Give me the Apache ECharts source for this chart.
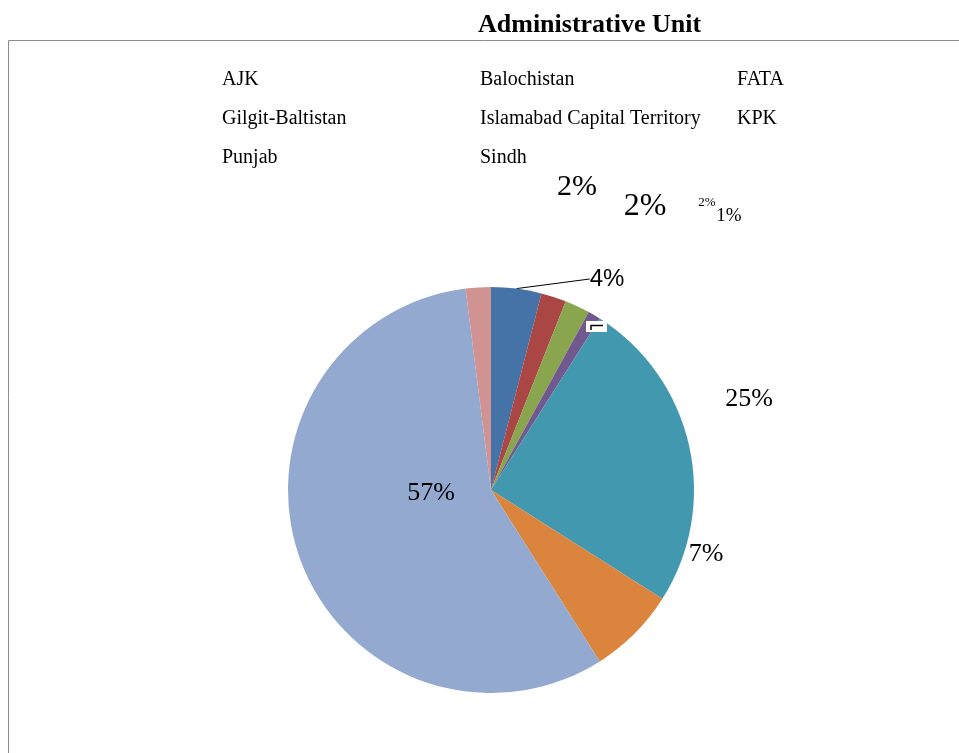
<!DOCTYPE html>
<html>
<head>
<meta charset="utf-8">
<script src="https://cdn.jsdelivr.net/npm/echarts@6/dist/echarts.min.js"></script>
<style>
  html, body { margin: 0; padding: 0; background: #fff; }
  #chart { width: 959px; height: 753px; }
</style>
</head>
<body>
<div id="chart"></div>
<script>
// Share of respondents by administrative unit (percent)
const units = ['AJK', 'Balochistan', 'FATA', 'Gilgit-Baltistan',
               'Islamabad Capital Territory', 'KPK', 'Punjab', 'Sindh'];
const shares = [4, 2, 2, 1, 25, 7, 57, 2];

const sliceColors = ['#4572A7', '#AA4643', '#89A54E', '#71588F',
                     '#4198AF', '#DB843D', '#93A9CF', '#D19392'];

// Pie geometry
const pieCenter = [491, 490];
const pieRadius = 203;

// Where each percentage label sits, as an offset from the pie centre
const labelOffsets = [[116, -211], [86, -303], [154, -283], [238, -274],
                      [258, -91], [215, 64], [-60, 3], [216, -287]];
const labelSizes = [24, 30, 32, 19, 26, 26, 26, 13];
const labelFonts = ['Liberation Sans', 'Liberation Serif', 'Liberation Serif', 'Liberation Serif',
                    'Liberation Serif', 'Liberation Serif', 'Liberation Serif', 'Liberation Serif'];
const leaderLine = [true, false, false, false, false, false, false, false];

// Legend is laid out row by row, three names per row
const legendColumns = 3;
const legendLeft = [222, 480, 737];

const chart = echarts.init(document.getElementById('chart'), null, { renderer: 'canvas' });

const pieData = units.map((name, i) => ({
  name: name,
  value: shares[i],
  itemStyle: { color: sliceColors[i] },
  label: { fontSize: labelSizes[i], fontFamily: labelFonts[i] },
  labelLine: { show: leaderLine[i], length: 10, length2: 0,
               lineStyle: { color: '#000', width: 1 } }
}));

const legends = legendLeft.map((left, c) => ({
  data: units.filter((u, i) => i % legendColumns === c),
  orient: 'vertical',
  left: left - 5,
  top: 65,
  padding: 0,
  icon: 'none',
  itemWidth: 0,
  itemHeight: 29,
  itemGap: 10,
  selectedMode: false,
  textStyle: { fontFamily: 'Liberation Serif', fontSize: 20, lineHeight: 29, color: '#000' }
}));

chart.setOption({
  animation: false,
  backgroundColor: '#fff',
  title: {
    text: 'Administrative Unit',
    left: 473,
    top: 7,
    textStyle: { fontFamily: 'Liberation Serif', fontWeight: 'bold', fontSize: 26, color: '#000' }
  },
  legend: legends,
  graphic: [
    {
      type: 'rect', silent: true, z: 0,
      shape: { x: 8.5, y: 40.5, width: 1000, height: 800 },
      style: { fill: 'none', stroke: '#8c8c8c', lineWidth: 1 }
    },
    {
      type: 'rect', silent: true, z: 100,
      shape: { x: 586, y: 321, width: 21, height: 11 },
      style: { fill: '#fff' }
    },
    {
      type: 'polyline', silent: true, z: 101,
      shape: { points: [[591, 330], [591, 325.5], [603, 325.5]] },
      style: { stroke: '#000', lineWidth: 1.5, fill: 'none' }
    }
  ],
  series: [{
    type: 'pie',
    center: pieCenter,
    radius: pieRadius,
    startAngle: 90,
    clockwise: true,
    avoidLabelOverlap: false,
    itemStyle: { borderWidth: 0 },
    emphasis: { disabled: true },
    label: {
      show: true,
      position: 'outside',
      color: '#000',
      formatter: p => Math.round(p.percent) + '%'
    },
    labelLayout: p => {
      const off = labelOffsets[p.dataIndex];
      return {
        x: pieCenter[0] + off[0],
        y: pieCenter[1] + off[1],
        align: 'center',
        verticalAlign: 'middle',
        hideOverlap: false
      };
    },
    data: pieData
  }]
});
</script>
</body>
</html>
